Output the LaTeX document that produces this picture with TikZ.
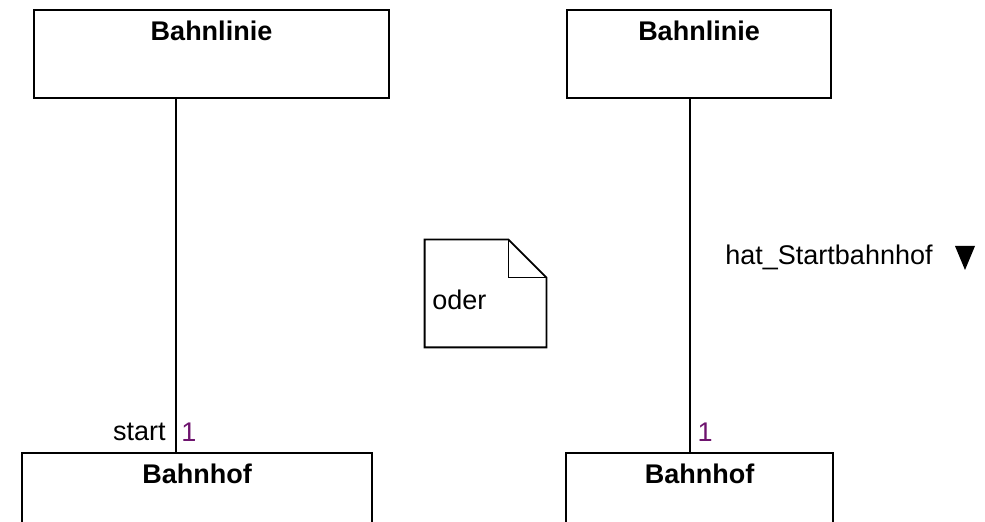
\documentclass[tikz,border=0pt]{standalone}
\usepackage{fontspec}
\setmainfont{Liberation Sans}
\definecolor{multcol}{RGB}{110,20,110}
\tikzset{
  cls/.style={draw, line width=0.9pt, inner sep=0pt},
  title/.style={font=\bfseries\fontsize{13.5}{16}\selectfont, inner sep=0pt},
  lbl/.style={font=\fontsize{13.5}{16}\selectfont, inner sep=0pt},
  assoc/.style={line width=0.9pt},
}
\begin{document}
\begin{tikzpicture}[x=1pt, y=1pt]
      \clip (0,0) rectangle (492.5,261);
      %
      \node[cls, minimum width=177.5pt, minimum height=44pt] (linieL) at (105.75,234) {}; % top left class
      \node[title] (tLinieL) at ([yshift=-11pt]linieL.north) {Bahnlinie};
      \node[cls, minimum width=175pt, minimum height=60pt] (hofL) at (98.5,4.5) {};       % bottom left class
      \node[title] (tHofL) at ([yshift=-11pt]hofL.north) {Bahnhof};
      %
      \node[cls, minimum width=132pt, minimum height=44pt] (linieR) at (349.5,234) {};    % top right class
      \node[title] (tLinieR) at ([yshift=-11pt]linieR.north) {Bahnlinie};
      \node[cls, minimum width=133.5pt, minimum height=60pt] (hofR) at (349.75,4.5) {};   % bottom right class
      \node[title] (tHofR) at ([yshift=-11pt]hofR.north) {Bahnhof};
      %
      \draw[assoc] (linieL.south -| 88,0) -- (hofL.north -| 88,0);    % left association
      \node[lbl, anchor=east] (startL) at (83,45) {start};
      \node[lbl, text=multcol] (multL) at (94.5,45) {1};
      %%
      \draw[assoc] (linieR.south -| 345,0) -- (hofR.north -| 345,0);  % right association
      \node[lbl, text=multcol] (multR) at (352.5,45) {1};
      \node[lbl, anchor=west] (hatR) at (362.5,132.5) {hat\_Startbahnhof};
      \fill (477.5,138) -- (487.5,138) -- (482.5,126) -- cycle;       % reading direction
      %
      \node[minimum width=60.5pt, minimum height=53.5pt, inner sep=0pt] (note) at (242.75,114.25) {}; % note
      \draw[line width=0.9pt] (note.north west) -- ([xshift=-19pt]note.north east)
            -- ([yshift=-19pt]note.north east) -- (note.south east) -- (note.south west) -- cycle;
      \draw[line width=0.9pt] ([xshift=-19pt]note.north east) -- ([xshift=-19pt, yshift=-19pt]note.north east)
            -- ([yshift=-19pt]note.north east);
      \node[lbl, anchor=west] (oder) at (216,111) {oder};
      %
    \end{tikzpicture}
\end{document}
